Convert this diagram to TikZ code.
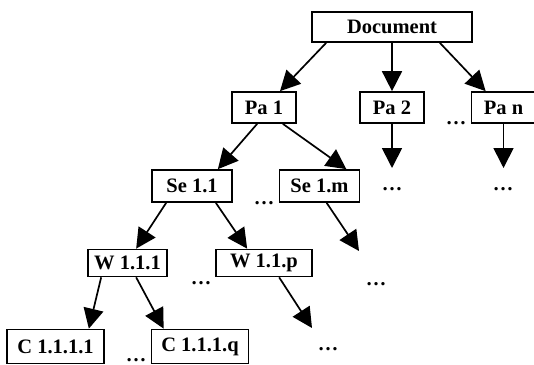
\documentclass[tikz,border=0pt]{standalone}
\usepackage{fontspec}
\setmainfont{Liberation Serif}
\usetikzlibrary{arrows.meta}
\begin{document}
\begin{tikzpicture}[x=1pt,y=-1pt,
	box/.style={draw,line width=1.7pt,inner sep=0pt,font=\bfseries\fontsize{20.5}{24}\selectfont},
	dots/.style={anchor=base,inner sep=0pt,font=\bfseries\fontsize{20.5}{24}\selectfont},
	arr/.style={-{Triangle[length=20pt,width=20pt]},line width=1.7pt}]
	\useasboundingbox (0,0) rectangle (534,364);
	% boxes
	\node[box,minimum width=160pt,minimum height=30pt] (doc) at (392,27) {Document};
	\node[box,minimum width=64pt,minimum height=31pt] (pa1) at (264,107.5) {Pa 1};
	\node[box,minimum width=64pt,minimum height=31pt] (pa2) at (392,107.5) {Pa 2};
	\node[box,minimum width=64pt,minimum height=31pt] (pan) at (503.5,107.5) {Pa n};
	\node[box,minimum width=80pt,minimum height=32pt] (se1) at (192,186) {Se 1.1};
	\node[box,minimum width=80pt,minimum height=32pt] (sem) at (319.5,186) {Se 1.m};
	\node[box,minimum width=79pt,minimum height=27pt] (w1) at (127.5,263) {W 1.1.1};
	\node[box,minimum width=96pt,minimum height=27pt] (wp) at (264,263) {W 1.1.p};
	\node[box,minimum width=97pt,minimum height=34pt] (c1) at (55.5,346.5) {C 1.1.1.1};
	\node[box,minimum width=97pt,minimum height=34pt] (cq) at (200,346.5) {C 1.1.1.q};
	% dots
	\node[dots] (d1) at (456,124) {\ldots};
	\node[dots] (d2) at (392,190) {\ldots};
	\node[dots] (d3) at (503,190) {\ldots};
	\node[dots] (d4) at (264,204) {\ldots};
	\node[dots] (d5) at (376,285) {\ldots};
	\node[dots] (d6) at (201,284) {\ldots};
	\node[dots] (d7) at (328,350) {\ldots};
	\node[dots] (d8) at (136,361) {\ldots};
	% free ends
	\coordinate (e2) at (392,168);
	\coordinate (e3) at (503.5,168);
	\coordinate (em) at (359,251);
	\coordinate (ep) at (312,328);
	% arrows
	\draw[arr] ([xshift=15pt]doc.south west) -- ([xshift=16pt]pa1.north);
	\draw[arr] (doc.south) -- (pa2.north);
	\draw[arr] ([xshift=-33pt]doc.south east) -- ([xshift=15pt]pan.north west);
	\draw[arr] (pa2.south) -- (e2);
	\draw[arr] (pan.south) -- (e3);
	\draw[arr] ([xshift=26pt]pa1.south west) -- ([xshift=-15pt]se1.north east);
	\draw[arr] ([xshift=-14pt]pa1.south east) -- ([xshift=-14pt]sem.north east);
	\draw[arr] ([xshift=48pt]sem.south west) -- (em);
	\draw[arr] ([xshift=15pt]se1.south west) -- ([xshift=49pt]w1.north west);
	\draw[arr] ([xshift=-17pt]se1.south east) -- ([xshift=32pt]wp.north west);
	\draw[arr] ([xshift=64pt]wp.south west) -- (ep);
	\draw[arr] ([xshift=14pt]w1.south west) -- ([xshift=-16pt]c1.north east);
	\draw[arr] ([xshift=49pt]w1.south west) -- ([xshift=13pt]cq.north west);
\end{tikzpicture}
\end{document}
